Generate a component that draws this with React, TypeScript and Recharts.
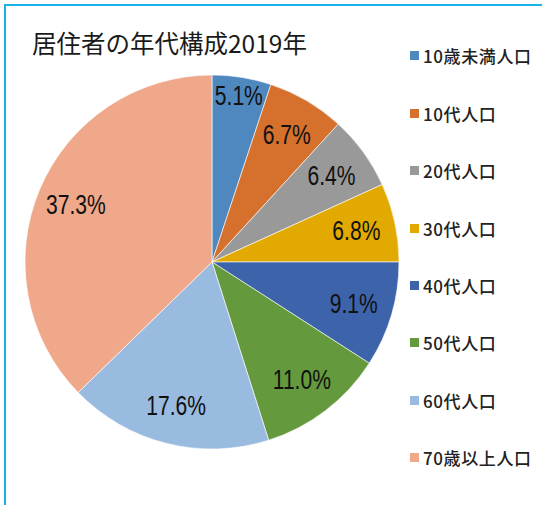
import { PieChart, Pie, Cell } from 'recharts';

const categories = ['10歳未満人口', '10代人口', '20代人口', '30代人口', '40代人口', '50代人口', '60代人口', '70歳以上人口'];
const shares = [5.1, 6.7, 6.4, 6.8, 9.1, 11.0, 17.6, 37.3];
const colors = ['#4f88be', '#d5702d', '#999999', '#e2aa00', '#3d64ab', '#64993d', '#9abbe0', '#f0a88a'];
const title = '居住者の年代構成2019年';

const RAD = Math.PI / 180;

function renderLabel(props: any) {
  const { cx, cy, midAngle, outerRadius, percent, index } = props;
  const r = outerRadius * (percent < 0.06 ? 0.9 : 0.79);
  const x = cx + r * Math.cos(-midAngle * RAD);
  const y = cy + r * Math.sin(-midAngle * RAD);
  // squeeze horizontally to mimic the narrow face of the original
  return (
    <text
      x={0}
      y={0}
      transform={`translate(${x},${y}) scale(0.78,1)`}
      textAnchor="middle"
      dominantBaseline="central"
      fill="#111"
      style={{ fontFamily: '"Liberation Sans", sans-serif', fontSize: 27 }}
    >
      {shares[index].toFixed(1)}%
    </text>
  );
}

export default function App() {
  const data = categories.map((name, i) => ({ name, value: shares[i] }));

  return (
    <div
      style={{
        position: 'absolute',
        left: 0,
        top: 0,
        width: 542,
        height: 505,
        background: '#fff',
        overflow: 'hidden',
      }}
    >
      <div
        style={{
          position: 'absolute',
          left: 4,
          top: 4,
          width: 560,
          height: 520,
          borderTop: '2px solid #1ab2e8',
          borderLeft: '2px solid #1ab2e8',
        }}
      />
      <div
        style={{
          position: 'absolute',
          left: 32,
          top: 27,
          fontFamily: '"Noto Sans CJK JP", sans-serif',
          fontSize: 24.5,
          lineHeight: '32px',
          color: '#1a1a1a',
          whiteSpace: 'nowrap',
        }}
      >
        {title}
      </div>
      <PieChart
        width={542}
        height={505}
        margin={{ top: 0, right: 0, bottom: 0, left: 0 }}
        style={{ position: 'absolute', left: 0, top: 0 }}
      >
        <Pie
          data={data}
          dataKey="value"
          nameKey="name"
          cx={212}
          cy={262}
          outerRadius={187}
          startAngle={90}
          endAngle={-270}
          stroke="#ffffff"
          strokeWidth={0.6}
          label={renderLabel}
          labelLine={false}
          isAnimationActive={false}
        >
          {data.map((d, i) => (
            <Cell key={d.name} fill={colors[i]} />
          ))}
        </Pie>
      </PieChart>
      <div style={{ position: 'absolute', left: 410, top: 27.3 }}>
        {categories.map((c, i) => (
          <div
            key={c}
            style={{
              display: 'flex',
              alignItems: 'center',
              height: 57.4,
              fontFamily: '"Noto Sans CJK JP", sans-serif',
              fontSize: 17,
              fontWeight: 500,
              letterSpacing: 0.6,
              color: '#222',
              whiteSpace: 'nowrap',
            }}
          >
            <span style={{ display: 'inline-block', width: 9, height: 9, background: colors[i], marginRight: 4 }} />
            <span>{c}</span>
          </div>
        ))}
      </div>
    </div>
  );
}
